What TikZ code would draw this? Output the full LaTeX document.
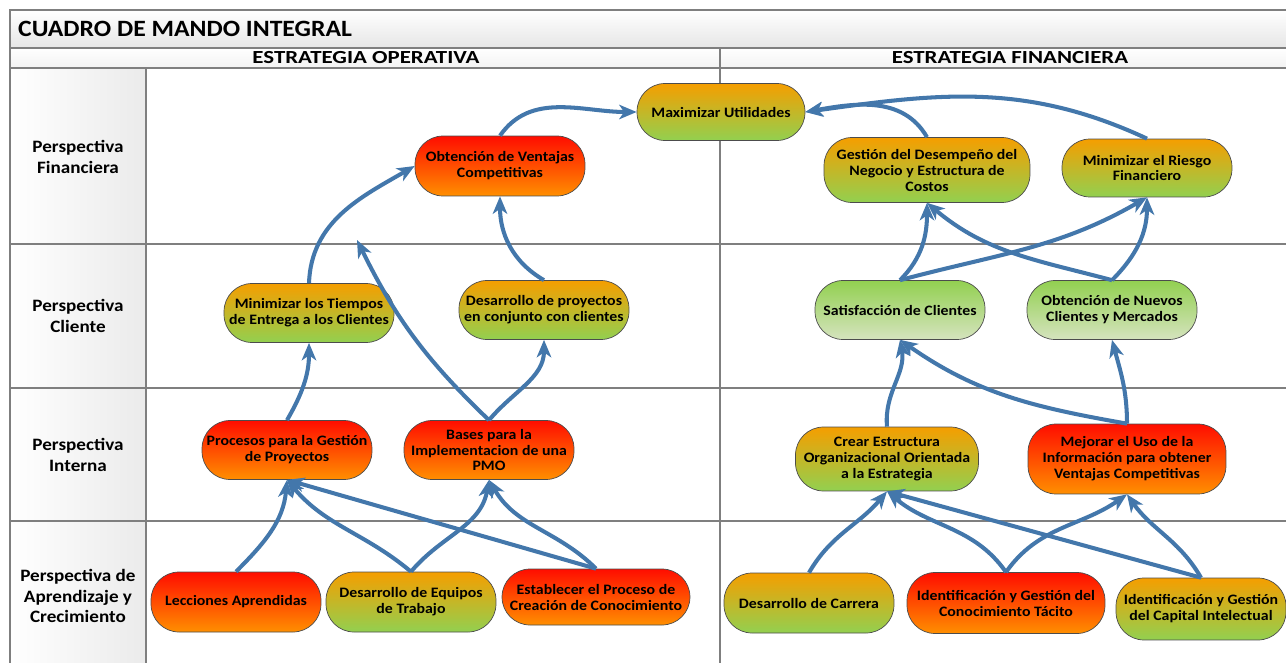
\documentclass[tikz,border=0pt]{standalone}
\usepackage{fontspec}
\setmainfont{Carlito}[FakeStretch=1.1]
\newfontfamily\headfont{Carlito}[FakeStretch=1.24]
\usepackage{tikz}
\usetikzlibrary{arrows.meta,positioning,calc}
\definecolor{CMIblue}{HTML}{4377AB}
\definecolor{CMIred}{HTML}{FF0D00}
\definecolor{CMIorange}{HTML}{FF8F00}
\definecolor{CMIamber}{HTML}{F59E00}
\definecolor{CMIgreen}{HTML}{92D050}
\definecolor{CMIpale}{HTML}{D5E3BE}
\definecolor{CMIline}{HTML}{7F7F7F}
\tikzset{
  cmi/goal/.style={draw=black!70, rectangle, rounded corners=5.6mm, inner xsep=1pt, inner ysep=2pt, align=center,
    font=\fontsize{8.2}{9.1}\selectfont\bfseries, minimum width=34mm, minimum height=11.8mm},
  cmi/red/.style={cmi/goal, top color=CMIred, bottom color=CMIorange},
  cmi/mixed/.style={cmi/goal, top color=CMIamber, bottom color=CMIgreen},
  cmi/green/.style={cmi/goal, top color=CMIgreen, bottom color=CMIpale},
  cmi/persp/.style={align=center, font=\fontsize{9.9}{11.5}\selectfont\bfseries},
  cmi/head/.style={font=\headfont\fontsize{10.5}{12}\selectfont\bfseries},
  cmi/grid/.style={draw=CMIline, line width=0.8pt},
  cmi/flow/.style={draw=CMIblue, line width=2.3pt, -{Stealth[length=3.5mm,width=2.9mm,inset=1mm]}}
}

\begin{document}
\begin{tikzpicture}[x=0.02cm, y=0.02cm]
  \clip (0,0) rectangle (1286,-663);

  % cuadro
  \shade[top color=white, bottom color=black!10] (10,-10) rectangle (1300,-48);
  \shade[top color=white, bottom color=black!5] (10,-48) rectangle (1300,-68);
  \shade[left color=white, right color=black!8] (10,-68) rectangle (146,-670);
  \draw[cmi/grid] (10,-10) rectangle (1300,-670);
  \draw[cmi/grid] (10,-48) -- (1300,-48) (10,-68) -- (1300,-68);
  \draw[cmi/grid] (146,-68) -- (146,-670) (720,-48) -- (720,-670);
  \foreach \y in {244,388,521}
    \draw[cmi/grid, line width=1.1pt] (10,-\y) -- (1300,-\y);

  \node[anchor=west, font=\fontsize{13.3}{15}\selectfont\bfseries] (titulo) at (12,-29) {CUADRO DE MANDO INTEGRAL};
  \node[cmi/head] (operativa) at (366,-58) {ESTRATEGIA OPERATIVA};
  \node[cmi/head] (financiera) at (1010,-58) {ESTRATEGIA FINANCIERA};

  \node[cmi/persp] (pfin) at (78,-157) {Perspectiva\\Financiera};
  \node[cmi/persp] (pcli) at (78,-316) {Perspectiva\\Cliente};
  \node[cmi/persp] (pint) at (78,-455) {Perspectiva\\Interna};
  \node[cmi/persp] (papr) at (78,-596) {Perspectiva de\\Aprendizaje y\\Crecimiento};

  % perspectiva financiera
  \node[cmi/mixed, minimum width=33.6mm, minimum height=11.4mm] (maximizar) at (721,-112) {Maximizar Utilidades};
  \node[cmi/red, minimum height=12mm] (ventajas) at (500,-166) {Obtención de Ventajas\\Competitivas};
  \node[cmi/mixed, minimum width=41.2mm, minimum height=13mm] (desempeno) at (927,-170) {Gestión del Desempeño del\\Negocio y Estructura de\\Costos};
  \node[cmi/mixed, minimum height=11.6mm] (riesgo) at (1147,-168) {Minimizar el Riesgo\\Financiero};

  % perspectiva cliente
  \node[cmi/mixed] (tiempos) at (309,-313) {Minimizar los Tiempos\\de Entrega a los Clientes};
  \node[cmi/mixed] (proyectos) at (544,-310) {Desarrollo de proyectos\\en conjunto con clientes};
  \node[cmi/green] (satisfaccion) at (900,-310) {Satisfacción de Clientes};
  \node[cmi/green] (nuevos) at (1112,-310) {Obtención de Nuevos\\Clientes y Mercados};

  % perspectiva interna
  \node[cmi/red] (procesos) at (287,-450) {Procesos para la Gestión\\de Proyectos};
  \node[cmi/red] (pmo) at (489,-450) {Bases para la\\Implementacion de una\\PMO};
  \node[cmi/mixed, minimum width=36.6mm, minimum height=12.8mm] (estructura) at (887,-459) {Crear Estructura\\Organizacional Orientada\\a la Estrategia};
  \node[cmi/red, minimum width=39.6mm, minimum height=14mm] (informacion) at (1127,-459) {Mejorar el Uso de la\\Información para obtener\\Ventajas Competitivas};

  % aprendizaje y crecimiento
  \node[cmi/red, minimum height=12mm] (lecciones) at (236,-602) {Lecciones Aprendidas};
  \node[cmi/mixed, minimum height=12mm] (equipos) at (411,-602) {Desarrollo de Equipos\\de Trabajo};
  \node[cmi/red, minimum width=37.6mm, minimum height=11.2mm] (conocimiento) at (596,-597) {Establecer el Proceso de\\Creación de Conocimiento};
  \node[cmi/mixed, minimum height=12mm] (carrera) at (809,-603) {Desarrollo de Carrera};
  \node[cmi/red, minimum width=39.6mm, minimum height=12.2mm] (tacito) at (1006,-603) {Identificación y Gestión del\\Conocimiento Tácito};
  \node[cmi/mixed, minimum height=12.4mm] (capital) at (1201,-609) {Identificación y Gestión\\del Capital Intelectual};

  \coordinate (libre) at (357,-240);

  % relaciones causa-efecto
  \draw[cmi/flow] (ventajas.north) to[out=55, in=180] (maximizar.west);
  \draw[cmi/flow] (desempeno.north) to[out=120, in=10] (maximizar.east);
  \draw[cmi/flow] (riesgo.north) to[out=155, in=8] (maximizar.east);
  \draw[cmi/flow] (tiempos.north) to[out=88, in=210] (ventajas.west);
  \draw[cmi/flow] (proyectos.north) to[out=150, in=-90] (ventajas.south);
  \draw[cmi/flow] (pmo.north) to[bend left=10] (libre);
  \draw[cmi/flow] (procesos.north) to[out=60, in=-90] (tiempos.south);
  \draw[cmi/flow] (pmo.north) to[out=50, in=-90] (proyectos.south);
  \draw[cmi/flow] (lecciones.north) to[out=45, in=-95] (procesos.south);
  \draw[cmi/flow] (equipos.north) to[out=140, in=-50] (procesos.south);
  \draw[cmi/flow] (equipos.north) to[out=50, in=-100] (pmo.south);
  \draw[cmi/flow] (conocimiento.north) -- (procesos.south);
  \draw[cmi/flow] (conocimiento.north) to[out=135, in=-60] (pmo.south);

  \draw[cmi/flow] (satisfaccion.north) to[out=45, in=-90] (desempeno.south);
  \draw[cmi/flow] (satisfaccion.north) to[out=15, in=210] (riesgo.south);
  \draw[cmi/flow] (nuevos.north) to[out=165, in=-40] (desempeno.south);
  \draw[cmi/flow] (nuevos.north) to[out=45, in=-90] (riesgo.south);
  \draw[cmi/flow] (estructura.north) to[out=95, in=-80] (satisfaccion.south);
  \draw[cmi/flow] (informacion.north) to[out=170, in=-35] (satisfaccion.south);
  \draw[cmi/flow] (informacion.north) to[out=90, in=-75] (nuevos.south);
  \draw[cmi/flow] (carrera.north) to[out=60, in=-130] (estructura.south);
  \draw[cmi/flow] (tacito.north) to[out=125, in=-40] (estructura.south);
  \draw[cmi/flow] (tacito.north) to[out=55, in=-145] (informacion.south);
  \draw[cmi/flow] (capital.north) -- (estructura.south);
  \draw[cmi/flow] (capital.north) to[out=120, in=-55] (informacion.south);
\end{tikzpicture}
\end{document}
